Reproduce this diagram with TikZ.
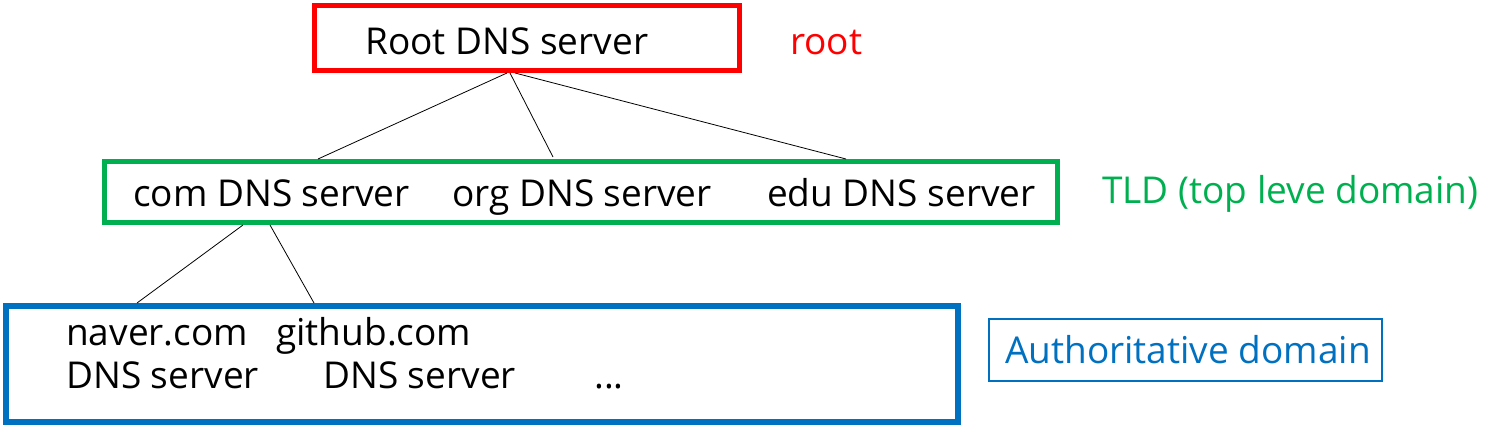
\documentclass[tikz,border=0pt]{standalone}
\usepackage{fontspec}
\setmainfont{Open Sans}
\definecolor{rootred}{HTML}{FF0000}
\definecolor{tldgreen}{HTML}{00B050}
\definecolor{authblue}{HTML}{0070C0}
\begin{document}
\begin{tikzpicture}[x=1pt,y=-1pt,
  box/.style={draw, rectangle, inner sep=0pt, outer sep=0pt},
  txt/.style={inner sep=0pt, anchor=base west, font=\fontsize{37}{44}\selectfont},
  conn/.style={draw=black, line width=0.8pt}]
\useasboundingbox (0,0) rectangle (1507,425);
% boxes
\node[box, draw=rootred, line width=5pt, minimum width=425pt, minimum height=65pt] (rootbox) at (527,38) {};
\node[box, draw=tldgreen, line width=5pt, minimum width=953pt, minimum height=61pt] (tldbox) at (581,192) {};
\node[box, draw=authblue, line width=6pt, minimum width=952pt, minimum height=116pt] (authbox) at (482,364) {};
\node[box, draw=authblue, line width=2pt, minimum width=393pt, minimum height=62pt] (authlbl) at (1185,349.5) {};
% texts
\node[txt] (roottxt) at (365,55) {Root DNS server};
\node[txt, text=rootred] (rootlbl) at (790,55) {root};
\node[txt] (comtxt) at (133,206) {com DNS server};
\node[txt] (orgtxt) at (452,206) {org DNS server};
\node[txt] (edutxt) at (767,206) {edu DNS server};
\node[txt, text=tldgreen] (tldlbl) at (1102,203) {TLD (top leve domain)};
\node[txt] (navtxt) at (66,345) {naver.com};
\node[txt] (gittxt) at (276,345) {github.com};
\node[txt] (navdns) at (66,388) {DNS server};
\node[txt] (gitdns) at (323,388) {DNS server};
\node[txt] (dots) at (594,388) {...};
\node[txt, text=authblue] (authtxt) at (1005,363) {Authoritative domain};
% connector end points
\coordinate (r1) at (507,73);
\coordinate (r2) at (510,73);
\coordinate (r3) at (515,73);
\coordinate (t1) at (318,159);
\coordinate (t2) at (553,157);
\coordinate (t3) at (846,159);
\coordinate (c1) at (243,225);
\coordinate (c2) at (270,225);
\coordinate (a1) at (137,303);
\coordinate (a2) at (314,303);
\draw[conn] (r1) -- (t1);
\draw[conn] (r2) -- (t2);
\draw[conn] (r3) -- (t3);
\draw[conn] (c1) -- (a1);
\draw[conn] (c2) -- (a2);
\end{tikzpicture}
\end{document}
